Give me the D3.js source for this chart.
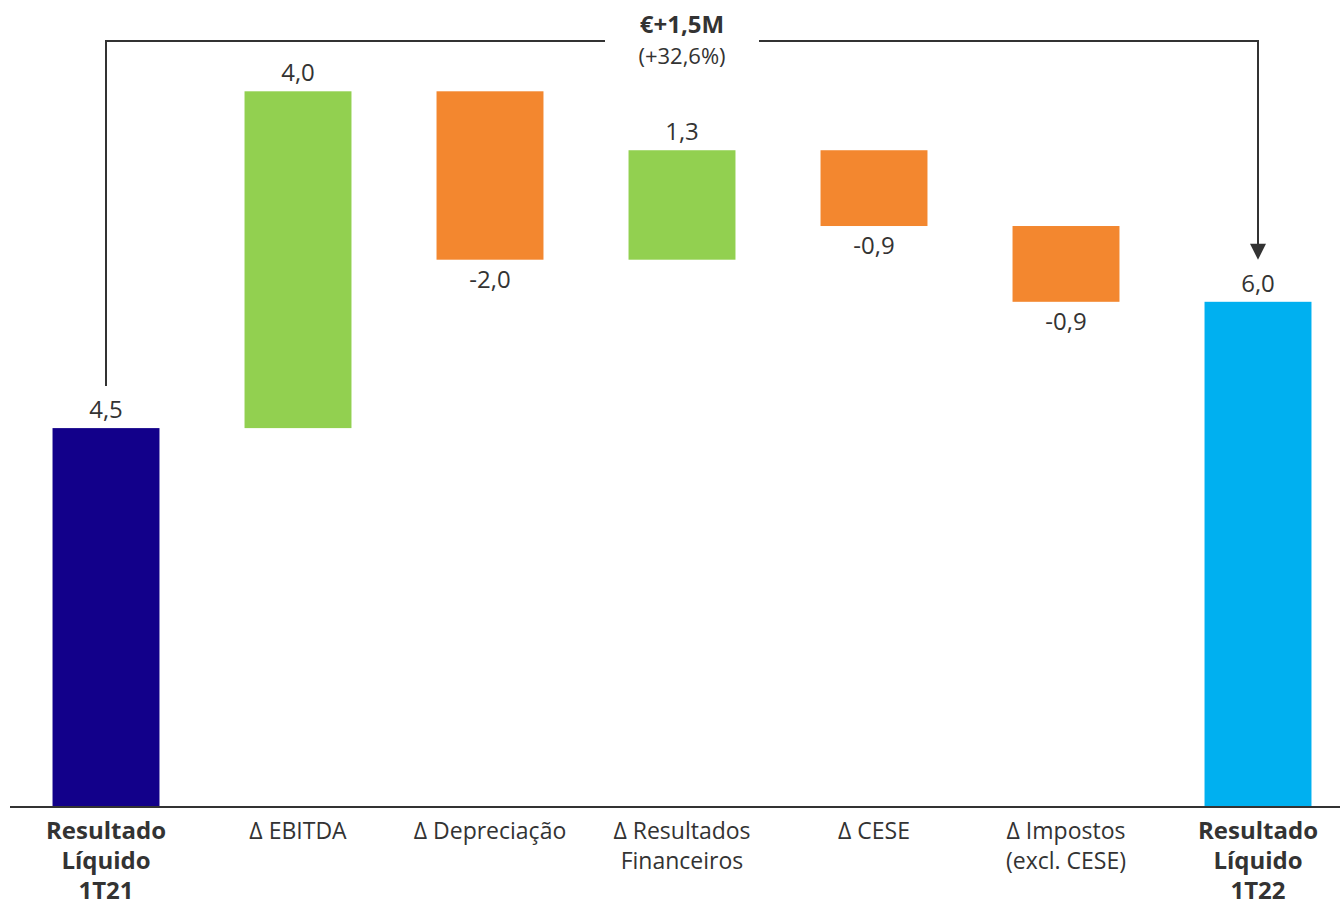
<!DOCTYPE html>
<html>
<head>
<meta charset="utf-8">
<script src="https://cdn.jsdelivr.net/npm/d3@7"></script>
<style>
  html, body { margin: 0; padding: 0; background: #fff; }
  svg { display: block; }
  text { font-family: "Open Sans", "Noto Sans", sans-serif; fill: #333; }
</style>
</head>
<body>
<svg id="chart" width="1340" height="908"></svg>
<script>
// Net result bridge, 1T21 -> 1T22 (M€)
const categories = [
  ["Resultado", "Líquido", "1T21"],
  ["Δ EBITDA"],
  ["Δ Depreciação"],
  ["Δ Resultados", "Financeiros"],
  ["Δ CESE"],
  ["Δ Impostos", "(excl. CESE)"],
  ["Resultado", "Líquido", "1T22"]
];
const values = [4.5, 4.0, -2.0, 1.3, -0.9, -0.9, 6.0];
const kinds = ["total", "delta", "delta", "delta", "delta", "delta", "total"];
const valueLabels = ["4,5", "4,0", "-2,0", "1,3", "-0,9", "-0,9", "6,0"];
const changeLabel = "€+1,5M";
const changePctLabel = "(+32,6%)";

const colors = { start: "#12008a", up: "#92d050", down: "#f3872f", end: "#00b0f0" };

// running totals for the floating bars
let run = 0;
const bars = values.map((v, i) => {
  let y0, y1, color;
  if (kinds[i] === "total") {
    y0 = 0; y1 = v; run = v;
    color = i === 0 ? colors.start : colors.end;
  } else {
    y0 = run; y1 = run + v; run = y1;
    color = v >= 0 ? colors.up : colors.down;
  }
  return { i, v, y0, y1, color, label: valueLabels[i], lines: categories[i] };
});

const svg = d3.select("#chart");
const baseY = 807;

const x = d3.scaleBand()
  .domain(d3.range(categories.length))
  .range([10, 1354])
  .paddingInner(0.443)
  .paddingOuter(0.2215);

const y = d3.scaleLinear().domain([0, 6]).range([baseY, baseY - 6 * 84.2]);

// bars
svg.append("g").selectAll("rect")
  .data(bars)
  .join("rect")
  .attr("x", d => x(d.i))
  .attr("width", x.bandwidth())
  .attr("y", d => y(Math.max(d.y0, d.y1)))
  .attr("height", d => Math.abs(y(d.y0) - y(d.y1)))
  .attr("fill", d => d.color);

// value labels: above rising/total bars, below falling bars
svg.append("g").selectAll("text")
  .data(bars)
  .join("text")
  .attr("x", d => x(d.i) + x.bandwidth() / 2)
  .attr("y", d => d.v >= 0 ? y(Math.max(d.y0, d.y1)) - 10 : y(Math.min(d.y0, d.y1)) + 28)
  .attr("text-anchor", "middle")
  .attr("font-size", 24)
  .text(d => d.label);

// baseline
svg.append("line")
  .attr("x1", 10).attr("x2", 1340)
  .attr("y1", baseY).attr("y2", baseY)
  .attr("stroke", "#333").attr("stroke-width", 2);

// category labels
const cat = svg.append("g").selectAll("text")
  .data(bars)
  .join("text")
  .attr("x", d => x(d.i) + x.bandwidth() / 2)
  .attr("y", 839)
  .attr("text-anchor", "middle")
  .attr("font-size", d => kinds[d.i] === "total" ? 24 : 23)
  .attr("font-weight", d => kinds[d.i] === "total" ? 700 : 400);
cat.selectAll("tspan")
  .data(d => d.lines.map((t, k) => ({ t, k, x: x(d.i) + x.bandwidth() / 2 })))
  .join("tspan")
  .attr("x", d => d.x)
  .attr("dy", d => d.k === 0 ? 0 : 30)
  .text(d => d.t);

// change bracket from first total to last total
const cx0 = x(0) + x.bandwidth() / 2;
const cx1 = x(categories.length - 1) + x.bandwidth() / 2;
const topY = 41;
const midX = (cx0 + cx1) / 2;
const gapHalf = 77;
const endTop = y(values[values.length - 1]);
const tipY = endTop - 42;

svg.append("path")
  .attr("d", `M${cx0},${y(values[0]) - 42}V${topY}H${midX - gapHalf}`)
  .attr("fill", "none").attr("stroke", "#333").attr("stroke-width", 2);

svg.append("path")
  .attr("d", `M${midX + gapHalf},${topY}H${cx1}V${tipY - 10}`)
  .attr("fill", "none").attr("stroke", "#333").attr("stroke-width", 2);

svg.append("path")
  .attr("d", `M${cx1 - 8},${tipY - 16}L${cx1 + 8},${tipY - 16}L${cx1},${tipY}Z`)
  .attr("fill", "#333");

svg.append("text")
  .attr("x", midX).attr("y", 33)
  .attr("text-anchor", "middle")
  .attr("font-size", 24).attr("font-weight", 700)
  .text(changeLabel);

svg.append("text")
  .attr("x", midX).attr("y", 64)
  .attr("text-anchor", "middle")
  .attr("font-size", 22)
  .text(changePctLabel);
</script>
</body>
</html>
